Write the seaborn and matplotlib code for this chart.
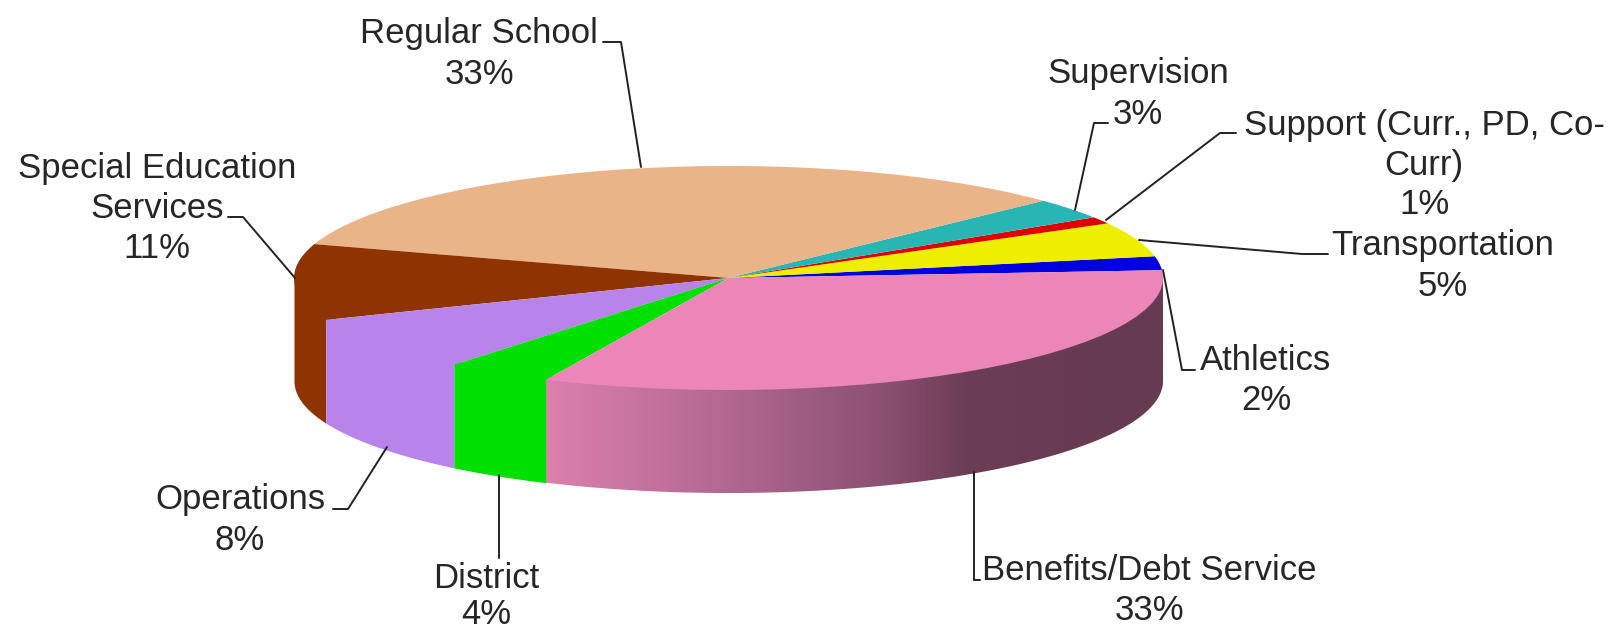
import numpy as np
import matplotlib
matplotlib.use("Agg")
import matplotlib.pyplot as plt
from matplotlib.colors import LinearSegmentedColormap
from matplotlib.lines import Line2D
from matplotlib.patches import Polygon
import seaborn as sns

# Budget shares, listed counter-clockwise from the start angle
categories = ["Athletics", "Transportation", "Support", "Supervision", "Regular School",
              "Special Education", "Operations", "District", "Benefits/Debt Service"]
shares = [2, 5, 1, 3, 33, 11, 8, 4, 33]
top_colors = ["#0000e0", "#eeee00", "#e00000", "#2ab5b5", "#e8b488",
              "#8f3300", "#b884ec", "#00e000", "#ec86b8"]
wall_colors = ["#0000e0", "#eeee00", "#e00000", "#2ab5b5", "#e8b488",
               "#8f3300", "#b884ec", "#00e000", None]
start_angle = 4.0

W, H = 1616, 631
CX, CY, RX, RY, DEPTH = 728.5, 278.0, 434.5, 112.0, 103.0

sns.set_theme(style="white")
plt.rcParams["font.family"] = ["Liberation Sans", "DejaVu Sans"]
TEXT = "#262626"

fig = plt.figure(figsize=(W / 100, H / 100), dpi=100, facecolor="white")
ax = fig.add_axes([0, 0, 1, 1])

# Top face: a regular pie, flattened later by the unequal axis scales
ax.pie(shares, colors=sns.color_palette(top_colors), startangle=start_angle,
       counterclock=True, radius=1.0, center=(0, 0),
       wedgeprops={"linewidth": 0, "zorder": 3})
ax.set_aspect("auto")

thickness = DEPTH / RY
overlap = 0.04  # walls run slightly under the top face so no seam shows
edges = start_angle + np.cumsum([0] + shares) * 3.6

# Side wall: only the front half of the rim is visible
for lo, hi, col in zip(edges[:-1], edges[1:], wall_colors):
    a0, a1 = max(lo, 180.0), min(hi, 360.0)
    if a1 <= a0:
        continue
    th = np.radians(np.linspace(a0, a1, 200))
    x, y = np.cos(th), np.sin(th)
    if col is not None:
        ax.fill_between(x, y + overlap, y - thickness, color=col, linewidth=0, zorder=2)
    else:
        # Shaded stretch of the wall under the largest front slice
        stops = [(0.0, "#dc80ac"), (0.27, "#b56a93"), (0.55, "#8a5070"),
                 (0.68, "#6c3e56"), (1.0, "#663a50")]
        cmap = LinearSegmentedColormap.from_list("wall", stops)
        im = ax.imshow(np.linspace(0, 1, 512)[None, :], cmap=cmap, aspect="auto",
                       extent=(x.min(), x.max(), (y - thickness).min(), y.max() + overlap),
                       zorder=2, interpolation="bilinear")
        outline = np.vstack([np.c_[x, y + overlap], np.c_[x, y - thickness][::-1]])
        clip = Polygon(outline, closed=True, transform=ax.transData, facecolor="none", edgecolor="none")
        ax.add_patch(clip)
        im.set_clip_path(clip)

ax.set_xlim(-CX / RX, (W - CX) / RX)
ax.set_ylim(-(H - CY) / RY, CY / RY)
ax.axis("off")


def fig_xy(px, py):
    return px / W, 1 - py / H


# Labels, each line centred on its column
labels = [
    (479, [(33, "Regular School"), (74, "33%")]),
    (1138, [(74, "Supervision"), (115, "3%")]),
    (1424, [(125, "Support (Curr., PD, Co-"), (165, "Curr)"), (205, "1%")]),
    (1443, [(245, "Transportation"), (286, "5%")]),
    (1266, [(360, "Athletics"), (401, "2%")]),
    (1149, [(570, "Benefits/Debt Service"), (611, "33%")]),
    (486, [(578, "District"), (615, "4%")]),
    (240, [(500, "Operations"), (541, "8%")]),
    (157, [(169, "Special Education"), (209, "Services"), (249, "11%")]),
]
for px, rows in labels:
    for py, s in rows:
        fx, fy = fig_xy(px, py)
        fig.text(fx, fy, s, ha="center", va="center", fontsize=25, color=TEXT)

# Leader lines from label to slice
leaders = [
    [(603, 42), (621, 42), (641, 167)],
    [(1108, 123), (1094, 123), (1075, 210)],
    [(1236, 133), (1220, 133), (1106, 220)],
    [(1328, 254), (1302, 254), (1139, 240)],
    [(1195, 370), (1182, 370), (1163, 270)],
    [(980, 580), (974, 580), (974, 472)],
    [(499, 558), (499, 475)],
    [(333, 509), (348, 509), (387, 447)],
    [(228, 217), (243, 217), (295, 278)],
]
for pts in leaders:
    xs, ys = zip(*[fig_xy(*p) for p in pts])
    fig.add_artist(Line2D(xs, ys, color="#222222", lw=1.4, transform=fig.transFigure, zorder=5))

fig.savefig("out.png", dpi=100, facecolor="white")
